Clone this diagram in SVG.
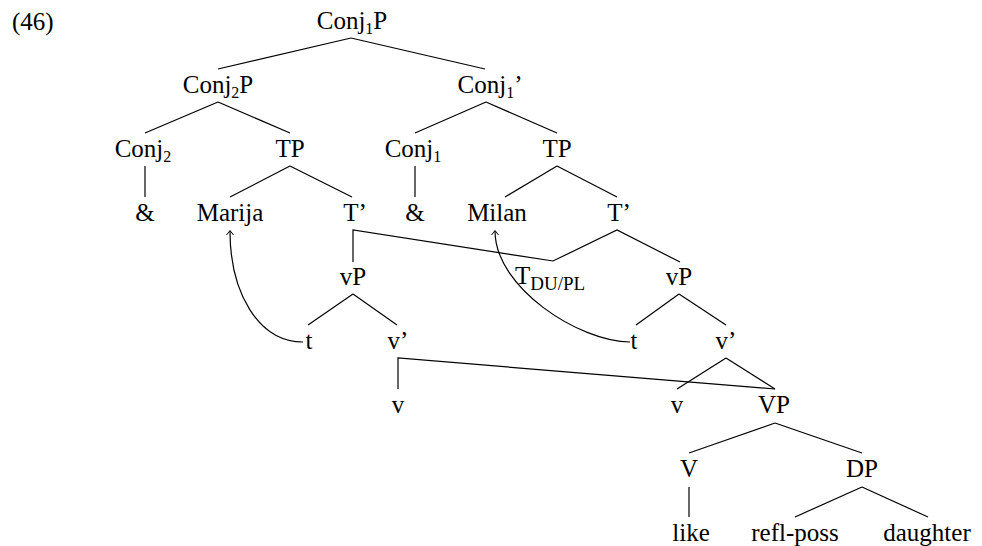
<svg xmlns="http://www.w3.org/2000/svg" width="982" height="546" viewBox="0 0 982 546" font-family="'Liberation Serif', 'DejaVu Serif', serif">
<style>
text{font-family:'Liberation Serif','DejaVu Serif',serif;font-size:25px;fill:#000;text-anchor:middle}
.s{font-size:16px}
.ss{font-size:19px}
.e line,.e polyline,.e path{stroke:#000;stroke-width:1.2;fill:none}
</style>
<defs>
<marker id="ah" markerWidth="10" markerHeight="10" refX="6" refY="5" orient="auto" markerUnits="userSpaceOnUse">
<path d="M2,1.5 L6.5,5 L2,8.5" fill="none" stroke="#000" stroke-width="1"/>
</marker>
</defs>
<rect width="982" height="546" fill="#fff"/>
<text x="12" y="30" style="text-anchor:start">(46)</text>
<g class="e" id="connectors">
<line x1="351" y1="38" x2="218" y2="69"/>
<line x1="351" y1="38" x2="485" y2="69"/>
<line x1="218" y1="102" x2="145" y2="133"/>
<line x1="218" y1="102" x2="290" y2="133"/>
<line x1="486" y1="102" x2="415" y2="133"/>
<line x1="486" y1="102" x2="557" y2="133"/>
<line x1="145" y1="166" x2="145" y2="197"/>
<line x1="290" y1="166" x2="230" y2="197"/>
<line x1="290" y1="166" x2="352" y2="197"/>
<line x1="415" y1="166" x2="415" y2="197"/>
<line x1="557" y1="166" x2="505" y2="197"/>
<line x1="557" y1="166" x2="617" y2="197"/>
<polyline points="353,262 353,230 553,261 617,230 680,262"/>
<line x1="353" y1="294" x2="308" y2="325"/>
<line x1="353" y1="294" x2="397" y2="325"/>
<line x1="679" y1="294" x2="636" y2="325"/>
<line x1="679" y1="294" x2="726" y2="325"/>
<polyline points="398,389 398,358 775,389"/>
<line x1="726" y1="358" x2="677" y2="389"/>
<line x1="726" y1="358" x2="775" y2="389"/>
<line x1="775" y1="423" x2="689" y2="453"/>
<line x1="775" y1="423" x2="862" y2="453"/>
<line x1="689" y1="487" x2="689" y2="517"/>
<line x1="862" y1="487" x2="795" y2="517"/>
<line x1="862" y1="487" x2="928" y2="517"/>
<path d="M303,342 C258,342 230,292 230,231" marker-end="url(#ah)"/>
<path d="M630,342 C580,342 495,288 495,231" marker-end="url(#ah)"/>
</g>
<g id="n-conj1p"><text x="352" y="29">Conj<tspan class="s" dy="5">1</tspan><tspan dy="-5">P</tspan></text></g>
<g id="n-conj2p"><text x="218" y="93">Conj<tspan class="s" dy="5">2</tspan><tspan dy="-5">P</tspan></text></g>
<g id="n-conj1bar"><text x="490" y="93">Conj<tspan class="s" dy="5">1</tspan><tspan dy="-5">’</tspan></text></g>
<g id="n-conj2"><text x="143" y="157">Conj<tspan class="s" dy="5">2</tspan></text></g>
<g id="n-tp1"><text x="290" y="157">TP</text></g>
<g id="n-conj1"><text x="413" y="157">Conj<tspan class="s" dy="5">1</tspan></text></g>
<g id="n-tp2"><text x="557" y="157">TP</text></g>
<g id="n-amp1"><text x="145" y="221">&amp;</text></g>
<g id="n-marija"><text x="230" y="221">Marija</text></g>
<g id="n-tbar1"><text x="355" y="221">T’</text></g>
<g id="n-amp2"><text x="415" y="221">&amp;</text></g>
<g id="n-milan"><text x="497" y="221">Milan</text></g>
<g id="n-tbar2"><text x="619" y="221">T’</text></g>
<g id="n-vp1"><text x="353" y="285">vP</text></g>
<g id="n-tdupl"><text x="515" y="284" style="text-anchor:start">T<tspan class="ss" dy="6">DU/PL</tspan></text></g>
<g id="n-vp2"><text x="679" y="285">vP</text></g>
<g id="n-t1"><text x="309" y="349">t</text></g>
<g id="n-vbar1"><text x="398" y="349">v’</text></g>
<g id="n-t2"><text x="634" y="349">t</text></g>
<g id="n-vbar2"><text x="726" y="349">v’</text></g>
<g id="n-v1"><text x="398" y="413">v</text></g>
<g id="n-v2"><text x="677" y="413">v</text></g>
<g id="n-vp3"><text x="774" y="413">VP</text></g>
<g id="n-V"><text x="689" y="477">V</text></g>
<g id="n-dp"><text x="862" y="477">DP</text></g>
<g id="n-like"><text x="691" y="541">like</text></g>
<g id="n-reflposs"><text x="795" y="541">refl-poss</text></g>
<g id="n-daughter"><text x="927" y="541">daughter</text></g>
</svg>
